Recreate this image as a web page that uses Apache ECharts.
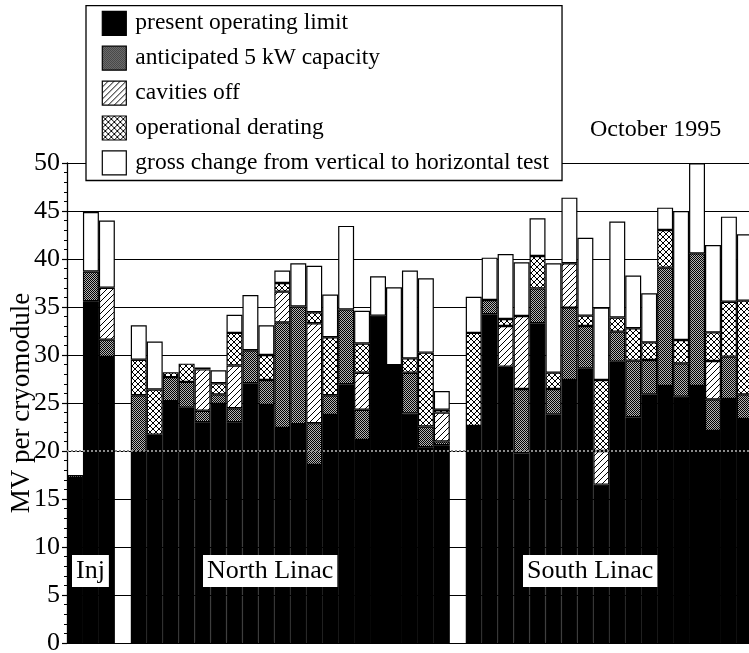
<!DOCTYPE html>
<html>
<head>
<meta charset="utf-8">
<script src="https://cdn.jsdelivr.net/npm/echarts@6/dist/echarts.min.js"></script>
<style>
  html, body { margin: 0; padding: 0; background: #fff; }
  #chart { width: 749px; height: 653px; }
</style>
</head>
<body>
<div id="chart"></div>
<script>
// Cryomodule slots: injector, gap, North Linac, gap, South Linac
const categories = [
  'I1', 'I2', 'I3', '',
  'N1', 'N2', 'N3', 'N4', 'N5', 'N6', 'N7', 'N8', 'N9', 'N10',
  'N11', 'N12', 'N13', 'N14', 'N15', 'N16', 'N17', 'N18', 'N19', 'N20', ' ',
  'S1', 'S2', 'S3', 'S4', 'S5', 'S6', 'S7', 'S8', 'S9', 'S10',
  'S11', 'S12', 'S13', 'S14', 'S15', 'S16', 'S17', 'S18'
];

// MV per cryomodule, one increment per stacked segment
const presentLimit = [
  17.2, 35.6, 29.8, null,
  19.9, 21.7, 25.2, 24.5, 23.0, 24.9, 23.0, 27.05, 24.8, 22.4,
  22.8, 18.55, 23.75, 26.95, 21.15, 34.1, 28.95, 23.9, 20.4, 20.6, null,
  22.6, 34.24, 28.78, 19.76, 33.3, 23.82, 27.4, 28.61, 16.5, 29.3,
  23.51, 25.9, 26.77, 25.66, 26.77, 22.08, 25.42, 23.33
];
const anticipated5kW = [
  0.3, 3.1, 1.8, null,
  5.9, 0, 2.5, 2.7, 1.2, 1.0, 1.45, 3.45, 2.6, 11.0,
  12.25, 4.35, 2.05, 7.8, 3.15, 0, 0, 4.25, 2.15, 0.4, null,
  0, 1.49, 0, 6.7, 3.64, 2.64, 7.53, 4.41, 0, 3.13,
  5.9, 3.58, 12.33, 3.47, 13.82, 3.3, 4.41, 2.57
];
const cavitiesOff = [
  0, 0, 5.4, null,
  0, 0, 0, 0, 4.3, 0, 4.45, 0, 0, 3.2,
  0, 10.4, 0, 0, 3.85, 0, 0, 0, 0, 3.0, null,
  0, 0, 4.24, 7.6, 0, 0, 4.62, 0, 3.5, 0,
  0, 0, 0, 0, 0, 4.0, 0, 0
];
const operationalDerating = [
  0, 0, 0, null,
  3.7, 4.7, 0.5, 1.9, 0, 1.15, 3.4, 0, 2.6, 0.9,
  0, 1.15, 6.05, 0, 3.05, 0, 0, 1.5, 7.7, 0.3, null,
  9.7, 0, 0.73, 0, 3.37, 1.7, 0, 1.08, 7.4, 1.47,
  3.37, 1.84, 3.92, 2.43, 0, 2.98, 5.72, 9.76
];
const grossChange = [
  0, 6.2, 7.0, null,
  3.6, 5.0, 0, 0, 0.2, 1.35, 1.9, 5.75, 3.1, 1.3,
  4.5, 4.85, 4.45, 8.7, 3.4, 4.1, 8.1, 9.15, 7.75, 1.95, null,
  3.77, 4.41, 6.77, 5.59, 3.93, 11.39, 6.84, 8.12, 7.53, 10.0,
  5.49, 5.1, 2.33, 13.44, 9.38, 9.1, 8.86, 6.91
];

const seriesNames = [
  'present operating limit',
  'anticipated 5 kW capacity',
  'cavities off',
  'operational derating',
  'gross change from vertical to horizontal test'
];
const yTicks = [0, 5, 10, 15, 20, 25, 30, 35, 40, 45, 50];

const FONT = "'Liberation Serif', 'Times New Roman', serif";

// Fill patterns drawn on small tiles
function tile(size, draw) {
  const c = document.createElement('canvas');
  c.width = size; c.height = size;
  const ctx = c.getContext('2d');
  ctx.fillStyle = '#fff';
  ctx.fillRect(0, 0, size, size);
  ctx.fillStyle = '#000';
  ctx.strokeStyle = '#000';
  draw(ctx, size);
  return { image: c, repeat: 'repeat' };
}
// dark stipple: black / light-grey checkerboard
const stipple = tile(2, (ctx) => {
  ctx.fillStyle = '#b4b4b4';
  ctx.fillRect(0, 0, 2, 2);
  ctx.fillStyle = '#000';
  ctx.fillRect(0, 0, 1, 1);
  ctx.fillRect(1, 1, 1, 1);
});
function diag(ctx, s) {
  ctx.beginPath();
  ctx.moveTo(-1, s + 1); ctx.lineTo(s + 1, -1);
  ctx.moveTo(-1, 1); ctx.lineTo(1, -1);
  ctx.moveTo(s - 1, s + 1); ctx.lineTo(s + 1, s - 1);
  ctx.stroke();
}
function antiDiag(ctx, s) {
  ctx.beginPath();
  ctx.moveTo(-1, -1); ctx.lineTo(s + 1, s + 1);
  ctx.moveTo(s - 1, -1); ctx.lineTo(s + 1, 1);
  ctx.moveTo(-1, s - 1); ctx.lineTo(1, s + 1);
  ctx.stroke();
}
const hatch = tile(6, (ctx, s) => { ctx.lineWidth = 1; diag(ctx, s); });
const crossHatch = tile(6, (ctx, s) => { ctx.lineWidth = 1; diag(ctx, s); antiDiag(ctx, s); });

const fills = ['#000', stipple, hatch, crossHatch, '#fff'];
const values = [presentLimit, anticipated5kW, cavitiesOff, operationalDerating, grossChange];

const series = values.map((arr, i) => ({
  name: seriesNames[i],
  type: 'bar',
  stack: 'module',
  barCategoryGap: '0%',
  data: arr.map(v => (v === null || v === 0) ? '-' : v),
  itemStyle: { color: fills[i], borderColor: '#000', borderWidth: 1.2 },
  emphasis: { disabled: true },
  silent: true
}));

// dotted reference level at 20 MV drawn above all bars
series[4].markLine = {
  silent: true,
  symbol: 'none',
  label: { show: false },
  lineStyle: { color: '#8a8a8a', type: [2, 2], width: 2 },
  data: [{ yAxis: 20 }]
};

const chart = echarts.init(document.getElementById('chart'), null, { renderer: 'canvas' });
chart.setOption({
  animation: false,
  backgroundColor: '#fff',
  grid: {
    left: 67, top: 163, width: categories.length * 15.95, height: 480,
    containLabel: false, outerBoundsMode: 'none'
  },
  xAxis: {
    type: 'category',
    data: categories,
    axisLine: { show: true, lineStyle: { color: '#000', width: 1 } },
    axisTick: { show: false },
    axisLabel: { show: false },
    splitLine: { show: false }
  },
  yAxis: {
    type: 'value',
    min: yTicks[0],
    max: yTicks[yTicks.length - 1],
    interval: 5,
    name: 'MV per cryomodule',
    nameLocation: 'middle',
    nameGap: 32,
    nameMoveOverlap: false,
    nameTextStyle: { fontFamily: FONT, fontSize: 27, color: '#000' },
    axisLine: { show: true, lineStyle: { color: '#000', width: 1.3 } },
    axisTick: { show: true, inside: false, length: 5, lineStyle: { color: '#000', width: 1.2 } },
    minorTick: { show: true, splitNumber: 5, length: 3, lineStyle: { color: '#000', width: 1 } },
    axisLabel: { fontFamily: FONT, fontSize: 26, color: '#000', margin: 7 },
    splitLine: { show: true, lineStyle: { color: '#000', width: 1.1 } }
  },
  legend: {
    data: seriesNames,
    orient: 'vertical',
    left: 86,
    top: 5.7,
    icon: 'rect',
    itemWidth: 24,
    itemHeight: 24,
    itemGap: 9.7,
    padding: [5, 13, 5, 15.7],
    backgroundColor: '#fff',
    borderColor: '#000',
    borderWidth: 1.3,
    selectedMode: false,
    itemStyle: { borderColor: '#000', borderWidth: 1.2 },
    textStyle: { fontFamily: FONT, fontSize: 23.5, color: '#000', lineHeight: 24, padding: [0, 0, 0, 4] }
  },
  graphic: [
    { type: 'text', left: 590, top: 118, z: 10,
      style: { text: 'October 1995', font: '24px ' + FONT, fill: '#000' } },
    { type: 'text', left: 72, top: 555, z: 10,
      style: { text: 'Inj', font: '26px ' + FONT, fill: '#000', backgroundColor: '#fff', padding: [3, 4, 3, 4] } },
    { type: 'text', left: 203, top: 555, z: 10,
      style: { text: 'North Linac', font: '26px ' + FONT, fill: '#000', backgroundColor: '#fff', padding: [3, 4, 3, 4] } },
    { type: 'text', left: 523, top: 555, z: 10,
      style: { text: 'South Linac', font: '26px ' + FONT, fill: '#000', backgroundColor: '#fff', padding: [3, 4, 3, 4] } }
  ],
  series: series
});
</script>
</body>
</html>
